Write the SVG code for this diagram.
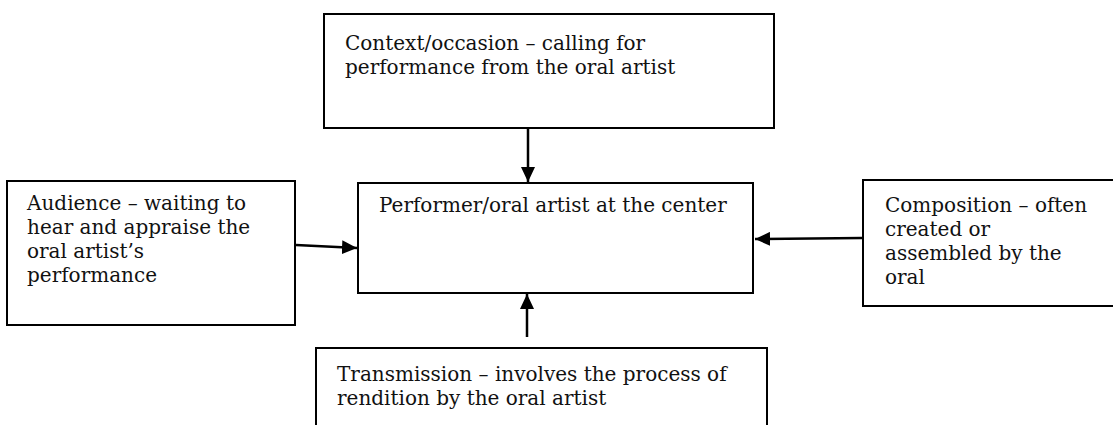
<svg xmlns="http://www.w3.org/2000/svg" width="1113" height="425" viewBox="0 0 1113 425">
<style>
.box{fill:#fff;stroke:#000;stroke-width:2}
.t{font-family:"DejaVu Serif","Liberation Serif",serif;font-size:20px;fill:#111}
.c{stroke:#000;stroke-width:2.5;fill:none}
</style>
<defs>
<marker id="ah" markerWidth="15" markerHeight="14" refX="15" refY="7" orient="auto" markerUnits="userSpaceOnUse" viewBox="0 0 15 14">
<path d="M0,0 L15,7 L0,14 z" fill="#000"/>
</marker>
</defs>
<rect width="1113" height="425" fill="#fff"/>
<g id="connectors">
<line class="c" x1="528" y1="129" x2="528" y2="182" marker-end="url(#ah)"/>
<line class="c" x1="296" y1="245" x2="357" y2="248" marker-end="url(#ah)"/>
<line class="c" x1="862" y1="238" x2="755" y2="239" marker-end="url(#ah)"/>
<line class="c" x1="527" y1="337" x2="527" y2="294" marker-end="url(#ah)"/>
</g>
<g id="context">
<rect class="box" x="324" y="14" width="450" height="114"/>
<text class="t" x="345" y="50">Context/occasion – calling for</text>
<text class="t" x="345" y="74">performance from the oral artist</text>
</g>
<g id="performer">
<rect class="box" x="358" y="183" width="395" height="110"/>
<text class="t" x="379" y="212">Performer/oral artist at the center</text>
</g>
<g id="audience">
<rect class="box" x="7" y="181" width="288" height="144"/>
<text class="t" x="27" y="210">Audience – waiting to</text>
<text class="t" x="27" y="234">hear and appraise the</text>
<text class="t" x="27" y="258">oral artist’s</text>
<text class="t" x="27" y="282">performance</text>
</g>
<g id="composition">
<rect class="box" x="863" y="180" width="260" height="126"/>
<text class="t" x="885" y="212">Composition – often</text>
<text class="t" x="885" y="236">created or</text>
<text class="t" x="885" y="260">assembled by the</text>
<text class="t" x="885" y="284">oral</text>
</g>
<g id="transmission">
<rect class="box" x="316" y="348" width="451" height="90"/>
<text class="t" x="337" y="381">Transmission – involves the process of</text>
<text class="t" x="337" y="405">rendition by the oral artist</text>
</g>
</svg>
